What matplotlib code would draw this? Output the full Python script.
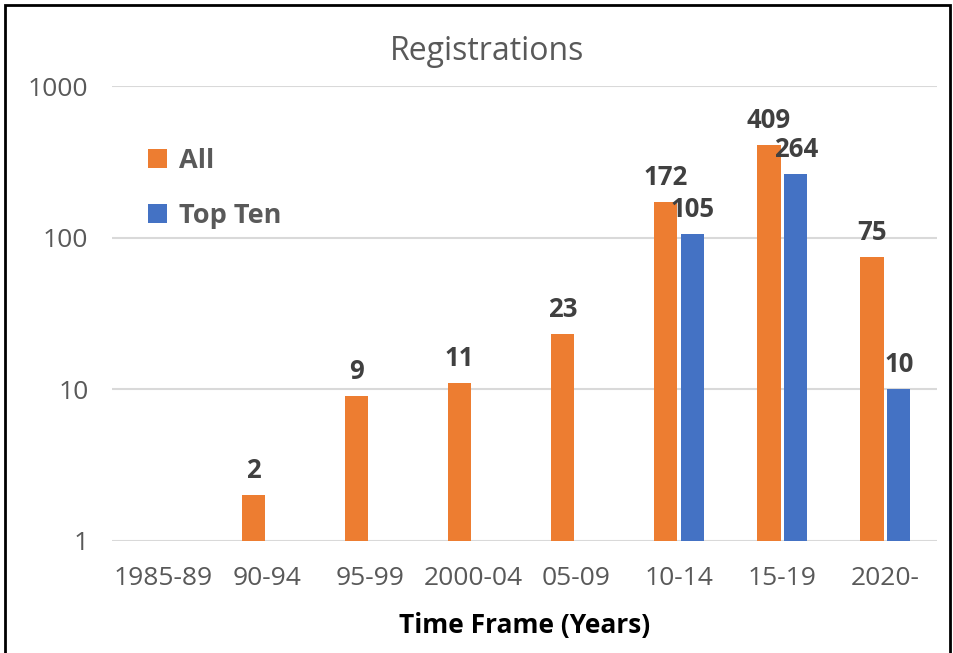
import matplotlib
matplotlib.use("Agg")
import matplotlib.pyplot as plt
from matplotlib.patches import Patch, Rectangle
import numpy as np

categories = ["1985-89", "90-94", "95-99", "2000-04", "05-09", "10-14", "15-19", "2020-"]
all_vals = [None, 2, 9, 11, 23, 172, 409, 75]
top_ten = [None, None, None, None, None, 105, 264, 10]

ORANGE = "#ED7D31"
BLUE = "#4472C4"
GRAY = "#595959"
LABEL = "#404040"

fam = ["Open Sans", "DejaVu Sans"]

fig = plt.figure(figsize=(9.54, 6.53), dpi=100)
ax = fig.add_axes([112/954, 1-541/653, (937-112)/954, (541-86)/653])

x = np.arange(len(categories))
w = 0.225
off = 0.13
for i in range(len(categories)):
    if all_vals[i] is not None:
        ax.bar(x[i]-off, all_vals[i], width=w, color=ORANGE, zorder=3)
        ax.annotate(str(all_vals[i]), (x[i]-off, all_vals[i]), xytext=(0, 8),
                    textcoords="offset points", ha="center", va="bottom",
                    fontsize=18.5, fontweight="bold", color=LABEL, family=fam)
    if top_ten[i] is not None:
        ax.bar(x[i]+off, top_ten[i], width=w, color=BLUE, zorder=3)
        ax.annotate(str(top_ten[i]), (x[i]+off, top_ten[i]), xytext=(0, 8),
                    textcoords="offset points", ha="center", va="bottom",
                    fontsize=18.5, fontweight="bold", color=LABEL, family=fam)

ax.set_yscale("log")
ax.set_ylim(1, 1000)
ax.set_xlim(-0.5, len(categories)-0.5)
ax.set_yticks([1, 10, 100, 1000])
ax.set_yticklabels(["1", "10", "100", "1000"])
ax.yaxis.set_minor_locator(matplotlib.ticker.NullLocator())
ax.set_xticks(x)
ax.set_xticklabels(categories)
for lab in ax.get_xticklabels() + ax.get_yticklabels():
    lab.set_family(fam)
    lab.set_fontsize(19)
    lab.set_color(GRAY)
ax.tick_params(axis="x", length=0, pad=18)
ax.tick_params(axis="y", length=0, pad=17)
for s in ax.spines.values():
    s.set_visible(False)
ax.grid(axis="y", color="#D9D9D9", linewidth=1.5, zorder=0)
ax.set_axisbelow(True)

ax.set_xlabel("Time Frame (Years)", fontsize=19, fontweight="bold", color="black",
              family=fam, labelpad=15)
fig.text(487/954, 1-51/653, "Registrations", ha="center", va="center",
         fontsize=23, color=GRAY, family=fam)

handles = [Patch(facecolor=ORANGE, label="All"), Patch(facecolor=BLUE, label="Top Ten")]
leg = fig.legend(handles=handles, loc="upper left", bbox_to_anchor=(126/954, 1-126/653),
                 frameon=False, handlelength=0.7, handleheight=0.7, handletextpad=0.45,
                 labelspacing=1.08, borderpad=0.3,
                 prop={"family": fam, "weight": "bold", "size": 19.5})
for t in leg.get_texts():
    t.set_color(GRAY)

fig.patches.append(Rectangle((5/954, -0.05), (950-5)/954, 1.05-5/653, transform=fig.transFigure,
                             fill=False, edgecolor="black", linewidth=2))

fig.savefig("out.png", dpi=100)
